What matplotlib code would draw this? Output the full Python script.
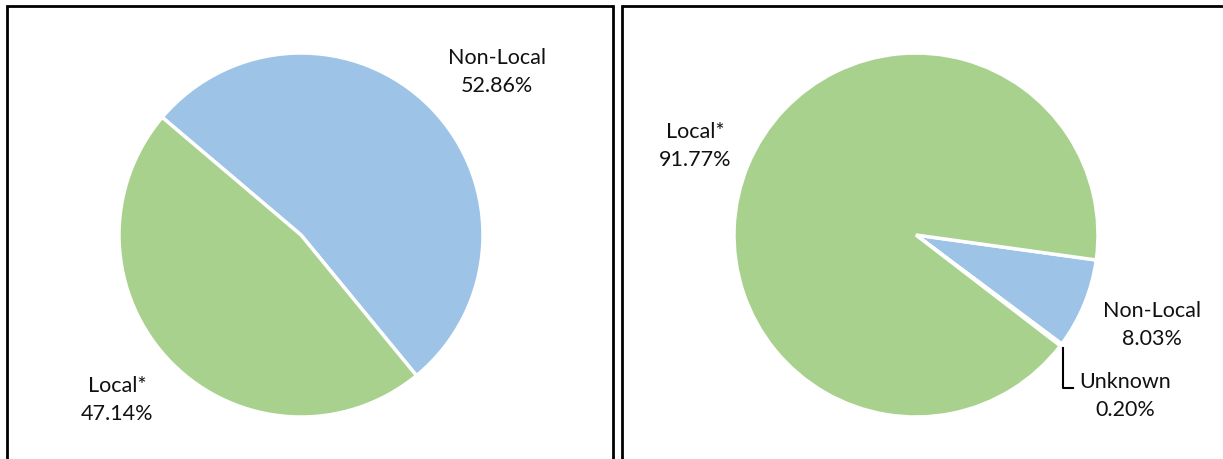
import numpy as np
import matplotlib.pyplot as plt
from matplotlib.patches import Rectangle

plt.rcParams['font.family'] = ['Lato', 'DejaVu Sans']

# left pie
left_labels = ["Non-Local", "Local*"]
left_values = [52.86, 47.14]
left_colors = ["#9DC3E6", "#A9D18E"]

# right pie
right_labels = ["Non-Local", "Unknown", "Local*"]
right_values = [8.03, 0.20, 91.77]
right_colors = ["#9DC3E6", "#9DC3E6", "#A9D18E"]

W, H = 1223, 459


def draw():
    fig = plt.figure(figsize=(W / 100, H / 100), dpi=100)
    ax = fig.add_axes([0, 0, 1, 1])

    # panel frames (run off the bottom / right edge)
    ax.add_patch(Rectangle((7, -20), 606, H - 6 + 20, fill=False,
                           edgecolor="black", linewidth=2, clip_on=False))
    ax.add_patch(Rectangle((622, -20), 700, H - 6 + 20, fill=False,
                           edgecolor="black", linewidth=2, clip_on=False))

    wp = dict(edgecolor="white", linewidth=2.5)
    r = 182

    ax.pie(left_values, colors=left_colors, startangle=139.7, counterclock=False,
           center=(301, H - 235), radius=r, wedgeprops=wp, frame=True)
    wedges, _ = ax.pie(right_values, colors=right_colors, startangle=-7.9,
                       counterclock=False, center=(916, H - 235), radius=r,
                       wedgeprops=wp, frame=True)
    ax.set_xlim(0, W)
    ax.set_ylim(0, H)
    ax.set_aspect("auto")
    ax.axis("off")

    fs = 15.5
    kw = dict(ha="center", va="center", fontsize=fs, linespacing=1.5, color="#111111")
    ax.text(497, H - 72, f"{left_labels[0]}\n{left_values[0]:.2f}%", **kw)
    ax.text(117, H - 400, f"{left_labels[1]}\n{left_values[1]:.2f}%", **kw)
    ax.text(695, H - 146, f"{right_labels[2]}\n{right_values[2]:.2f}%", **kw)
    ax.text(1152, H - 325, f"{right_labels[0]}\n{right_values[0]:.2f}%", **kw)
    ax.text(1125, H - 396, f"{right_labels[1]}\n{right_values[1]:.2f}%", **kw)

    # leader line for the tiny Unknown slice
    w = wedges[1]
    mid = np.deg2rad((w.theta1 + w.theta2) / 2)
    x0 = w.center[0] + w.r * np.cos(mid) + 2
    y0 = w.center[1] + w.r * np.sin(mid) - 3
    ax.plot([x0, x0, x0 + 10], [y0, H - 388, H - 388], color="black", linewidth=1.5)

    fig.savefig("out.png", dpi=100)


if __name__ == "__main__":
    draw()
